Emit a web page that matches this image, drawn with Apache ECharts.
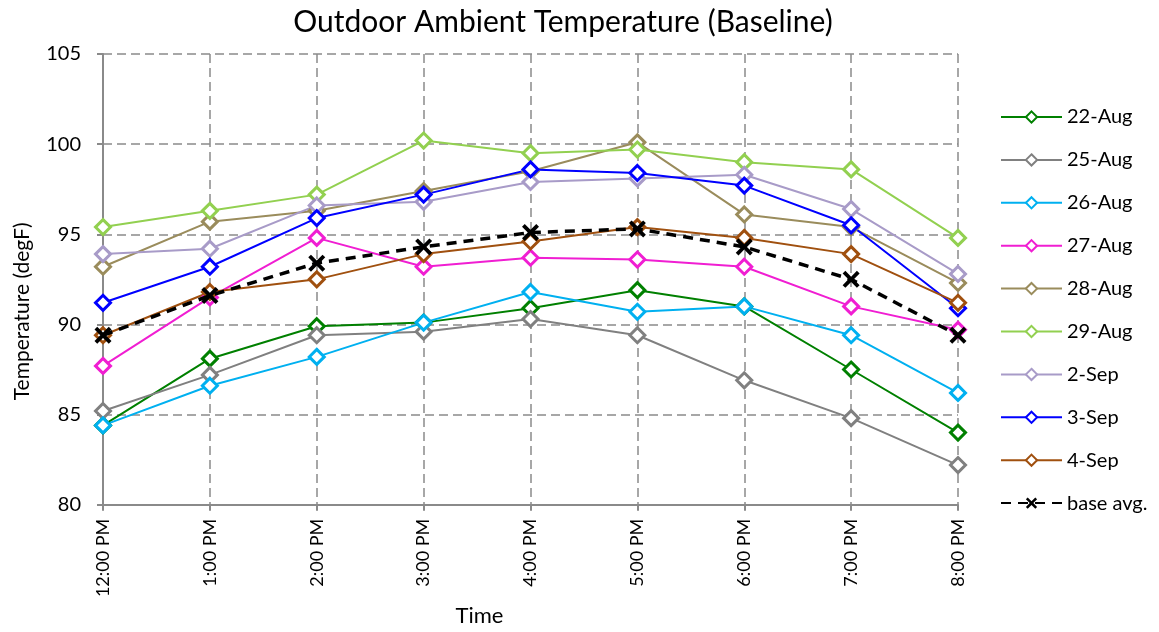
<!DOCTYPE html>
<html><head><meta charset="utf-8">
<script src="https://cdn.jsdelivr.net/npm/echarts@6/dist/echarts.min.js"></script>
<style>html,body{margin:0;padding:0;background:#fff}#c{width:1159px;height:632px}</style>
</head><body><div id="c"></div>
<script>
const categories = ["12:00 PM","1:00 PM","2:00 PM","3:00 PM","4:00 PM","5:00 PM","6:00 PM","7:00 PM","8:00 PM"];
const aug22 = [84.4, 88.1, 89.9, 90.1, 90.9, 91.9, 91.0, 87.5, 84.0];
const aug25 = [85.2, 87.2, 89.4, 89.6, 90.3, 89.4, 86.9, 84.8, 82.2];
const aug26 = [84.4, 86.6, 88.2, 90.1, 91.8, 90.7, 91.0, 89.4, 86.2];
const aug27 = [87.7, 91.5, 94.8, 93.2, 93.7, 93.6, 93.2, 91.0, 89.7];
const aug28 = [93.2, 95.7, 96.3, 97.4, 98.5, 100.1, 96.1, 95.4, 92.3];
const aug29 = [95.4, 96.3, 97.2, 100.2, 99.5, 99.7, 99.0, 98.6, 94.8];
const sep2  = [93.9, 94.2, 96.6, 96.8, 97.9, 98.1, 98.3, 96.4, 92.8];
const sep3  = [91.2, 93.2, 95.9, 97.2, 98.6, 98.4, 97.7, 95.5, 90.9];
const sep4  = [89.4, 91.8, 92.5, 93.9, 94.6, 95.4, 94.8, 93.9, 91.2];
const baseAvg = [89.4, 91.6, 93.4, 94.3, 95.1, 95.3, 94.3, 92.5, 89.4];

const daySeries = [
  ["22-Aug", aug22, "#008000"],
  ["25-Aug", aug25, "#808080"],
  ["26-Aug", aug26, "#00B0F0"],
  ["27-Aug", aug27, "#F01ED2"],
  ["28-Aug", aug28, "#9A8C5C"],
  ["29-Aug", aug29, "#92D050"],
  ["2-Sep",  sep2,  "#A89BC8"],
  ["3-Sep",  sep3,  "#0000FF"],
  ["4-Sep",  sep4,  "#A0500F"]
];
const FONT = "Lato";
const gridColor = "#8a8a8a";
const xPath = "path://M0,1.6 L1.6,0 L5,3.4 L8.4,0 L10,1.6 L6.6,5 L10,8.4 L8.4,10 L5,6.6 L1.6,10 L0,8.4 L3.4,5 Z";

const series = daySeries.map(([name, data, color]) => ({
  name, type: "line", data,
  symbol: "diamond", symbolSize: 15,
  showSymbol: true,
  lineStyle: { color, width: 2 },
  itemStyle: { color: "#fff", borderColor: color, borderWidth: 3 },
  emphasis: { disabled: true },
  animation: false
}));
series.push({
  name: "base avg.", type: "line", data: baseAvg,
  symbol: xPath, symbolSize: 17,
  lineStyle: { color: "#000", width: 3.5, type: [10, 7] },
  itemStyle: { color: "#000", borderWidth: 0 },
  emphasis: { disabled: true },
  animation: false, z: 5
});

const chart = echarts.init(document.getElementById("c"), null, { renderer: "canvas" });
chart.setOption({
  animation: false,
  backgroundColor: "#fff",
  title: {
    text: "Outdoor Ambient Temperature (Baseline)",
    left: 558, top: 2, textAlign: "center",
    textStyle: { fontFamily: FONT, fontSize: 30, fontWeight: "normal", color: "#000" }
  },
  legend: {
    orient: "vertical", left: 1000, top: 107, padding: 0,
    itemWidth: 61, itemHeight: 14, itemGap: 22.9,
    textStyle: { fontFamily: FONT, fontSize: 20, lineHeight: 20, color: "#000" },
    data: daySeries.map(d => d[0]).concat(["base avg."])
  },
  grid: { left: 103, right: 201, top: 54, bottom: 126, containLabel: false },
  xAxis: {
    type: "category", data: categories, boundaryGap: false,
    name: "Time", nameLocation: "middle", nameGap: 100,
    nameTextStyle: { fontFamily: FONT, fontSize: 22, color: "#000", padding: [0, 102, 0, 0] },
    axisLine: { lineStyle: { color: gridColor, width: 2 } },
    axisTick: { show: true, length: 6, lineStyle: { color: gridColor, width: 2 } },
    axisLabel: { rotate: 90, fontFamily: FONT, fontSize: 18, color: "#000", margin: 14 },
    splitLine: { show: true, lineStyle: { color: gridColor, width: 1.5, type: [9, 5] } }
  },
  yAxis: {
    type: "value", min: 80, max: 105, interval: 5,
    name: "Temperature (degF)", nameLocation: "middle", nameGap: 70,
    nameTextStyle: { fontFamily: FONT, fontSize: 21, color: "#000", padding: [0, 64, 0, 0] },
    axisLine: { show: true, lineStyle: { color: gridColor, width: 2 } },
    axisTick: { show: true, length: 6, lineStyle: { color: gridColor, width: 2 } },
    axisLabel: { fontFamily: FONT, fontSize: 20, color: "#000", margin: 22 },
    splitLine: { show: true, lineStyle: { color: gridColor, width: 1.5, type: [9, 5] } }
  },
  series
});
</script></body></html>
